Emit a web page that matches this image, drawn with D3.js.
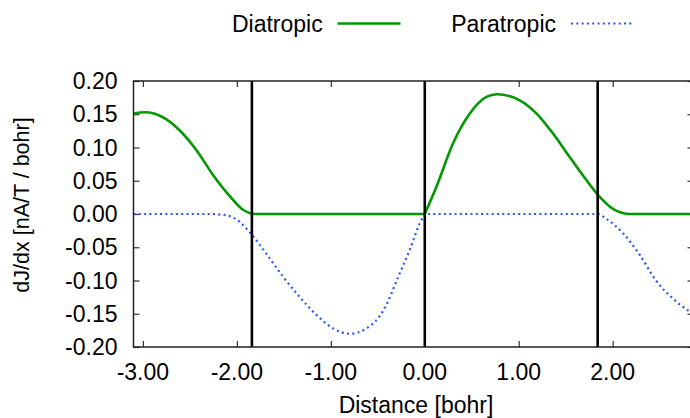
<!DOCTYPE html>
<html>
<head>
<meta charset="utf-8">
<script src="https://cdn.jsdelivr.net/npm/d3@7"></script>
<style>
  html, body { margin: 0; padding: 0; background: #fff; }
  svg { display: block; }
  text { font-family: "Liberation Sans", Arial, Helvetica, sans-serif; fill: #000; }
</style>
</head>
<body>
<svg id="chart" width="690" height="418"></svg>
<script>
// Current-density derivative profiles along the scan line (left and right of the centre)
const diaLeftX  = [-3.1, -2.98, -2.78, -2.61, -2.43, -2.25, -2.07, -1.93, -1.8, -1.0, -0.5, 0];
const diaLeftY  = [0.151, 0.153, 0.145, 0.126, 0.096, 0.058, 0.026, 0.006, 0, 0, 0, 0];
const diaRightX = [0, 0.124, 0.30, 0.479, 0.656, 0.77, 1.01, 1.19, 1.365, 1.54, 1.72, 1.86, 1.97, 2.07, 2.18, 2.5, 2.86];
const diaRightY = [0, 0.041, 0.106, 0.151, 0.176, 0.180, 0.171, 0.151, 0.121, 0.086, 0.051, 0.026, 0.011, 0.003, 0, 0, 0];

const paraLeftX  = [-3.1, -2.6, -2.3, -2.11, -2.02, -1.97, -1.86, -1.68, -1.51, -1.33, -1.15, -0.975, -0.80,
                    -0.62, -0.44, -0.266, -0.16, -0.053, 0];
const paraLeftY  = [0, 0, 0, -0.002, -0.007, -0.012, -0.028, -0.061, -0.094, -0.125, -0.152, -0.172, -0.180,
                    -0.172, -0.145, -0.089, -0.054, -0.014, 0];
const paraRightX = [0, 1.0, 1.84, 1.93, 2.11, 2.29, 2.46, 2.64, 2.80, 2.86];
const paraRightY = [0, 0, 0, -0.007, -0.029, -0.062, -0.100, -0.127, -0.145, -0.150];

// Boundary markers (bohr)
const markers = [-1.84, 0, 1.84];

const xTicks = [-3, -2, -1, 0, 1, 2];
const yTicks = [-0.20, -0.15, -0.10, -0.05, 0.00, 0.05, 0.10, 0.15, 0.20];

const seriesNames = ["Diatropic", "Paratropic"];
const xTitle = "Distance [bohr]";
const yTitle = "dJ/dx [nA/T / bohr]";

const svg = d3.select("#chart");
const plot = { left: 133.5, right: 693.5, top: 81, bottom: 347 };

const x = d3.scaleLinear().domain([-3.1, 2.86]).range([plot.left, plot.right]);
const y = d3.scaleLinear().domain([-0.2, 0.2]).range([plot.bottom, plot.top]);

const fontSize = 23;
const fmt = d => d3.format(".2f")(d).replace("\u2212", "-");

svg.append("defs").append("clipPath").attr("id", "clip")
  .append("rect")
  .attr("x", plot.left).attr("y", plot.top)
  .attr("width", plot.right - plot.left).attr("height", plot.bottom - plot.top);

// Inward ticks on all four sides
const tickLen = 6;
const axisStyle = g => {
  g.select(".domain").remove();
  g.selectAll(".tick line").attr("stroke", "#333").attr("stroke-width", 1.2);
};
svg.append("g").attr("transform", `translate(0,${plot.bottom})`)
  .call(d3.axisBottom(x).tickValues(xTicks).tickSize(-tickLen).tickFormat(""))
  .call(axisStyle);
svg.append("g").attr("transform", `translate(0,${plot.top})`)
  .call(d3.axisTop(x).tickValues(xTicks).tickSize(-tickLen).tickFormat(""))
  .call(axisStyle);
svg.append("g").attr("transform", `translate(${plot.left},0)`)
  .call(d3.axisLeft(y).tickValues(yTicks).tickSize(-tickLen).tickFormat(""))
  .call(axisStyle);
svg.append("g").attr("transform", `translate(${plot.right},0)`)
  .call(d3.axisRight(y).tickValues(yTicks).tickSize(-tickLen).tickFormat(""))
  .call(axisStyle);

// Tick labels
svg.append("g").selectAll("text").data(xTicks).join("text")
  .attr("x", d => x(d)).attr("y", 379.5)
  .attr("text-anchor", "middle")
  .attr("font-size", fontSize)
  .text(fmt);

svg.append("g").selectAll("text").data(yTicks).join("text")
  .attr("x", 117.5).attr("y", d => y(d) + 8.2)
  .attr("text-anchor", "end")
  .attr("font-size", fontSize)
  .text(fmt);

// Axis titles
svg.append("text")
  .attr("x", 416).attr("y", 413)
  .attr("text-anchor", "middle")
  .attr("font-size", fontSize)
  .text(xTitle);

svg.append("text")
  .attr("transform", `translate(29,205) rotate(-90)`)
  .attr("text-anchor", "middle")
  .attr("font-size", 21.5)
  .text(yTitle);

// Curves: each side drawn as its own smooth piece so the profile keeps its corner at x = 0
const piece = (xs, ys) => d3.line()
  .x(i => x(xs[i])).y(i => y(ys[i]))
  .curve(d3.curveMonotoneX)(d3.range(xs.length));

const gData = svg.append("g").attr("clip-path", "url(#clip)");

gData.append("path")
  .attr("d", piece(paraLeftX, paraLeftY) + piece(paraRightX, paraRightY).replace(/^M/, "L"))
  .attr("fill", "none")
  .attr("stroke", "#2a55ff")
  .attr("stroke-width", 2.2)
  .attr("stroke-dasharray", "2 3.3");

gData.append("path")
  .attr("d", piece(diaLeftX, diaLeftY) + piece(diaRightX, diaRightY).replace(/^M/, "L"))
  .attr("fill", "none")
  .attr("stroke", "#009900")
  .attr("stroke-width", 2.6);

// Vertical boundary markers
gData.selectAll("line.marker").data(markers).join("line")
  .attr("class", "marker")
  .attr("x1", d => x(d)).attr("x2", d => x(d))
  .attr("y1", plot.top).attr("y2", plot.bottom)
  .attr("stroke", "#000").attr("stroke-width", 2.6);

// Frame
svg.append("rect")
  .attr("x", plot.left).attr("y", plot.top)
  .attr("width", plot.right - plot.left).attr("height", plot.bottom - plot.top)
  .attr("fill", "none").attr("stroke", "#222").attr("stroke-width", 1.5);

// Legend
const legend = svg.append("g");
const legendItems = [
  { name: seriesNames[0], textEnd: 322.7, x1: 337.5, x2: 400.5, color: "#009900", dash: null, w: 2.6 },
  { name: seriesNames[1], textEnd: 556, x1: 571, x2: 633, color: "#2a55ff", dash: "2 3.3", w: 2.2 }
];
legendItems.forEach(it => {
  legend.append("text")
    .attr("x", it.textEnd).attr("y", 32)
    .attr("text-anchor", "end")
    .attr("font-size", fontSize)
    .text(it.name);
  legend.append("line")
    .attr("x1", it.x1).attr("x2", it.x2)
    .attr("y1", 23.5).attr("y2", 23.5)
    .attr("stroke", it.color).attr("stroke-width", it.w)
    .attr("stroke-dasharray", it.dash);
});
</script>
</body>
</html>
